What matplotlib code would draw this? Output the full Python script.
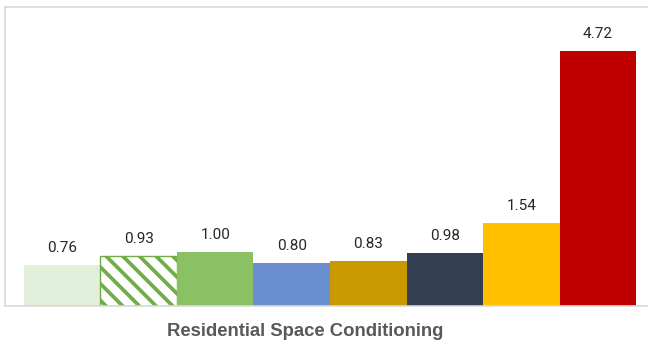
import matplotlib.pyplot as plt
import numpy as np

# values, left to right
values = [0.76, 0.93, 1.00, 0.80, 0.83, 0.98, 1.54, 4.72]
labels = ["0.76", "0.93", "1.00", "0.80", "0.83", "0.98", "1.54", "4.72"]
colors = ["#E2EFDA", "white", "#8CC064", "#6A8FD0", "#C99A00", "#333F50", "#FFC000", "#C00000"]
title = "Residential Space Conditioning"

plt.rcParams['hatch.linewidth'] = 2.7

fig = plt.figure(figsize=(6.48, 3.43), dpi=100)
ax = fig.add_axes([5 / 648, 37 / 343, 650 / 648, 299 / 343])

x = np.arange(len(values))
bars = ax.bar(x, values, width=1.0, color=colors, linewidth=0)

# hatched second bar
bars[1].set_hatch('\\\\')
bars[1].set_edgecolor('#70AD47')
bars[1].set_linewidth(1.0)

for xi, v, lab in zip(x, values, labels):
    ax.annotate(lab, (xi, v), xytext=(0, 7), textcoords='offset points',
                ha='center', va='bottom', fontsize=11, color='#262626',
                family=['Roboto', 'DejaVu Sans'])

ax.set_xlim(-0.748, 7.748)
ax.set_ylim(0, 5.53)
ax.set_xticks([])
ax.set_yticks([])
for side in ['left', 'top', 'bottom']:
    ax.spines[side].set_color('#D9D9D9')
    ax.spines[side].set_linewidth(1.2)
ax.spines['right'].set_visible(False)

fig.text(305.5 / 648, 11 / 343, title, ha='center', va='center',
         fontsize=13.3, fontweight='bold', color='#595959',
         family=['Liberation Sans', 'DejaVu Sans'])

fig.savefig('out.png', dpi=100)
